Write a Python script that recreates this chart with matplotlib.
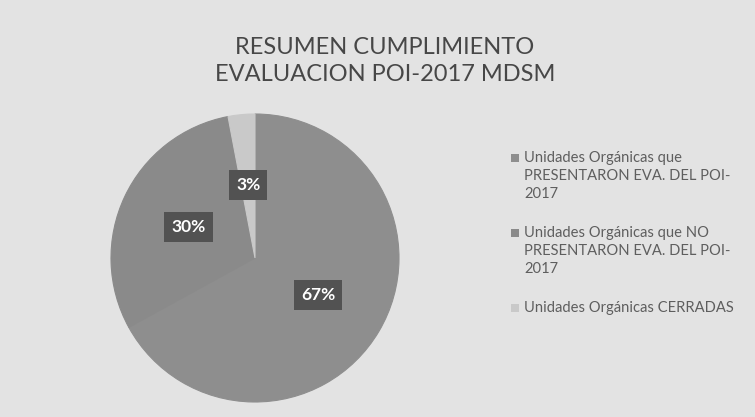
import matplotlib
matplotlib.use("Agg")
import matplotlib.pyplot as plt
from matplotlib.patches import Rectangle

title = "RESUMEN CUMPLIMIENTO\nEVALUACION POI-2017 MDSM"
categories = [
    "Unidades Orgánicas que\nPRESENTARON EVA. DEL POI-\n2017",
    "Unidades Orgánicas que NO\nPRESENTARON EVA. DEL POI-\n2017",
    "Unidades Orgánicas CERRADAS",
]
values = [67, 30, 3]
colors = ["#8e8e8e", "#8a8a8a", "#c9c9c9"]

plt.rcParams["font.family"] = ["Lato", "DejaVu Sans"]

W, H = 755, 417
fig = plt.figure(figsize=(W / 100, H / 100), dpi=100)
fig.patch.set_facecolor("#e3e3e3")

cx, cy, r = 255, 258, 144
ax = fig.add_axes([(cx - r) / W, (H - cy - r) / H, 2 * r / W, 2 * r / H])
ax.set_facecolor("none")
wedges, texts, autotexts = ax.pie(
    values, colors=colors, startangle=90, counterclock=False,
    autopct=lambda p: f"{p:.0f}%", pctdistance=0.51, radius=1.0,
    wedgeprops=dict(linewidth=0.8),
    textprops=dict(color="white", fontsize=12.5, fontweight="bold"),
)
for w in wedges:
    w.set_edgecolor(w.get_facecolor())
for t in autotexts:
    t.set_bbox(dict(boxstyle="square,pad=0.4", facecolor="#525252", edgecolor="none"))
ax.set_xlim(-1.0, 1.0)
ax.set_ylim(-1.0, 1.0)
ax.set_aspect("auto")
ax.axis("off")

fig.text(385 / W, 1 - 61 / H, title, ha="center", va="center", fontsize=17,
         color="#474747", linespacing=1.38)

# legend drawn as marker squares + text
line_h = 20.5
y = 158
for cat, col in zip(categories, colors):
    fig.add_artist(Rectangle((511 / W, 1 - (y + 4) / H), 8 / W, 8 / H,
                             transform=fig.transFigure, facecolor=col, edgecolor="none"))
    fig.text(524 / W, 1 - (y - 7) / H, cat, ha="left", va="top", fontsize=10.6,
             color="#5e5e5e", linespacing=1.36)
    n = cat.count("\n") + 1
    y += n * line_h + 13.5

fig.savefig("out.png", dpi=100, facecolor=fig.get_facecolor())
